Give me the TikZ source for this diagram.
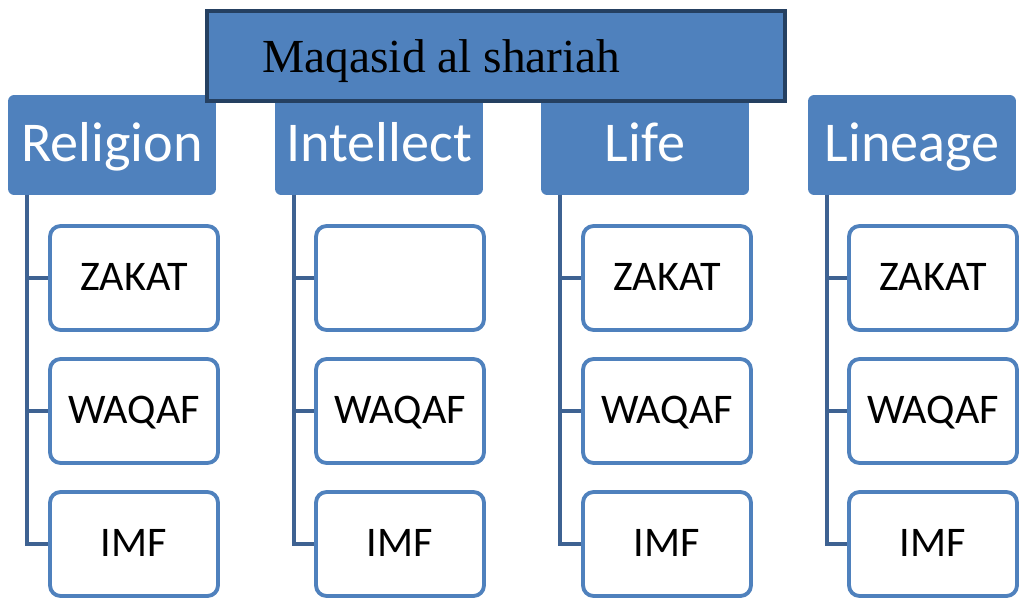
\documentclass[tikz,border=0pt]{standalone}
\usepackage{fontspec}
\setmainfont{Liberation Serif}
\newfontfamily\calibrifont{Carlito}
\usetikzlibrary{positioning,calc}
\definecolor{goalblue}{RGB}{79,129,189}
\definecolor{goaldark}{RGB}{37,64,97}
\definecolor{branchcolor}{RGB}{62,98,146}

\tikzset{
  goalhead/.style={draw=none, fill=goalblue, rounded corners=3.5pt,
    minimum width=4.16cm, minimum height=2cm, inner sep=0pt,
    text height=0.68cm, text depth=0pt,
    text=white, font=\calibrifont\fontsize{32}{38}\selectfont},
  goalitem/.style={draw=goalblue, line width=2.2pt, fill=white, rounded corners=6pt,
    minimum width=3.36cm, minimum height=2.08cm, inner sep=0pt,
    text height=0.52cm, text depth=0pt,
    font=\calibrifont\fontsize{24}{28}\selectfont},
  branch/.style={draw=branchcolor, line width=2.2pt}
}

\begin{document}
\begin{tikzpicture}[x=0.02cm, y=-0.02cm]
\useasboundingbox (0,0) rectangle (1022,598);

% ================= RELIGION =================
\node[goalhead] (rel) at (112,145) {Religion};
\node[goalitem] (relA) at (134,278) {ZAKAT};
\node[goalitem] (relB) at (134,411) {WAQAF};
\node[goalitem] (relC) at (134,544) {IMF};
\coordinate (relT) at (27,195);
\draw[branch] (relT) |- (relA.west);
\draw[branch] (relT) |- (relB.west);
\draw[branch] (relT) |- (relC.west);

% ================= INTELLECT =================
\node[goalhead] (int) at (379,145) {Intellect};
\node[goalitem] (intA) at (400,278) {};
\node[goalitem] (intB) at (400,411) {WAQAF};
\node[goalitem] (intC) at (400,544) {IMF};
\coordinate (intT) at (294,195);
\draw[branch] (intT) |- (intA.west);
\draw[branch] (intT) |- (intB.west);
\draw[branch] (intT) |- (intC.west);

% ================= LIFE =================
\node[goalhead] (life) at (645,145) {Life};
\node[goalitem] (lifeA) at (667,278) {ZAKAT};
\node[goalitem] (lifeB) at (667,411) {WAQAF};
\node[goalitem] (lifeC) at (667,544) {IMF};
\coordinate (lifeT) at (560,195);
\draw[branch] (lifeT) |- (lifeA.west);
\draw[branch] (lifeT) |- (lifeB.west);
\draw[branch] (lifeT) |- (lifeC.west);

% ================= LINEAGE =================
\node[goalhead] (lin) at (912,145) {Lineage};
\node[goalitem] (linA) at (933,278) {ZAKAT};
\node[goalitem] (linB) at (933,411) {WAQAF};
\node[goalitem] (linC) at (933,544) {IMF};
\coordinate (linT) at (827,195);
\draw[branch] (linT) |- (linA.west);
\draw[branch] (linT) |- (linB.west);
\draw[branch] (linT) |- (linC.west);

% ================= TITLE BAR =================
\node[
draw=goaldark,
line width=2.6pt,
fill=goalblue,
minimum width=11.56cm,
minimum height=1.8cm,
inner sep=0pt
] (maqasid) at (496,56) {};
\node[anchor=base west, inner sep=0pt, font=\fontsize{27}{32}\selectfont]
  (maqasidtext) at (262,73) {Maqasid al shariah};

\end{tikzpicture}
\end{document}
